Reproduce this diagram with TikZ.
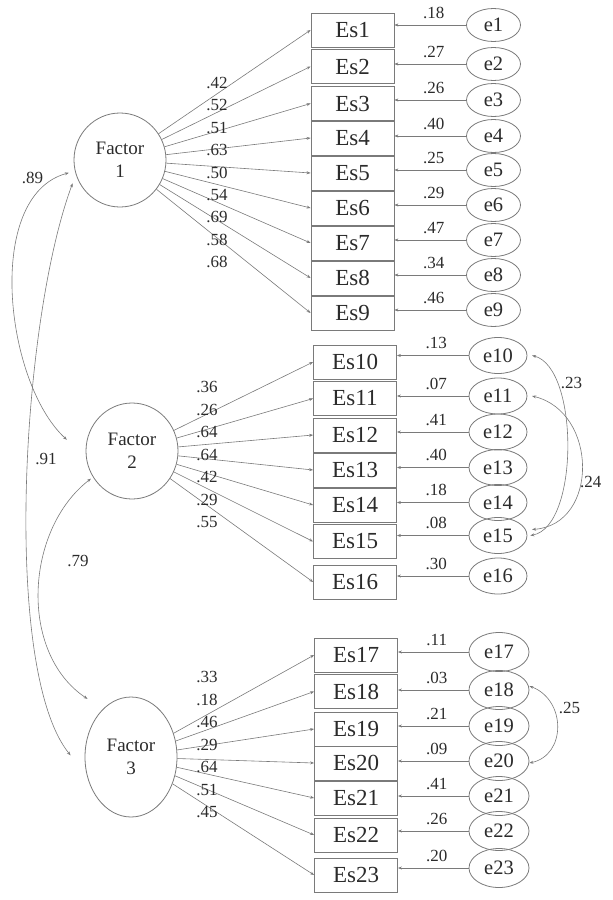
\documentclass[tikz,border=0pt]{standalone}
\usepackage{fontspec}
\setmainfont{Liberation Serif}
\usepackage{tikz}
\usetikzlibrary{shapes.geometric,arrows.meta}
\definecolor{linea}{HTML}{7A7A7A}
\definecolor{texto}{HTML}{2B2B2B}

\begin{document}
\begin{tikzpicture}[
  x=1pt, y=1pt, text=texto,
  fac/.style={ellipse, draw=linea, line width=0.8pt, inner sep=0pt, align=center, font=\fontsize{19}{23}\selectfont},
  ind/.style={rectangle, draw=linea, line width=0.8pt, inner sep=0pt, minimum width=83pt, minimum height=34pt, font=\fontsize{23}{27}\selectfont},
  err/.style={ellipse, draw=linea, line width=0.8pt, inner sep=0pt, minimum width=58pt, minimum height=36pt, font=\fontsize{20.5}{24}\selectfont},
  num/.style={inner sep=1pt, font=\fontsize{17}{20}\selectfont},
  fl/.style={-{Stealth[length=4pt,width=3pt]}, draw=linea, line width=0.6pt},
  cov/.style={{Stealth[length=4pt,width=3pt]}-{Stealth[length=4pt,width=3pt]}, draw=linea, line width=0.6pt}
]
\useasboundingbox (0,0) rectangle (613,-900);

\node[fac, minimum width=92pt, minimum height=94pt] (F1) at (120,-160) {Factor\\1};
\node[fac, minimum width=92pt, minimum height=96pt] (F2) at (132,-451) {Factor\\2};
\node[fac, minimum width=92pt, minimum height=120pt] (F3) at (131,-757) {Factor\\3};

% factor 1
\foreach \i/\yb/\ye/\er in {1/30/25/.18, 2/66.5/64/.27, 3/103.5/100/.26, 4/138/136/.40, 5/173/170/.25, 6/208/205/.29, 7/243/240/.47, 8/278/275/.34, 9/313/310/.46}{
  \node[ind] (Es\i) at (352.5,-\yb) {Es\i};
  \node[err, minimum width=54pt, minimum height=33pt] (e\i) at (493.5,-\ye) {e\i};
  \draw[fl] (F1) -- (Es\i.west);
  \draw[fl] (e\i) -- (Es\i.east |- e\i) node[num, pos=0.45, above=5pt] (v\i) {\er};
}
\foreach \l [count=\k] in {.42,.52,.51,.63,.50,.54,.69,.58,.68}
  \node[num] (cf1-\k) at (217,{-83-22.4*(\k-1)}) {\l};

% factor 2
\foreach \i/\yb/\ye/\er in {10/362/355.5/.13, 11/398.5/396/.07, 12/435/432/.41, 13/470/467.5/.40, 14/505/502.5/.18, 15/541.5/535.5/.08, 16/582/576/.30}{
  \node[ind] (Es\i) at (355,-\yb) {Es\i};
  \node[err] (e\i) at (498,-\ye) {e\i};
  \draw[fl] (F2) -- (Es\i.west);
  \draw[fl] (e\i) -- (Es\i.east |- e\i) node[num, pos=0.45, above=5pt] (v\i) {\er};
}
\foreach \l [count=\k] in {.36,.26,.64,.64,.42,.29,.55}
  \node[num] (cf2-\k) at (207,{-387.3-22.5*(\k-1)}) {\l};

% factor 3
\foreach \i/\yb/\ye/\er in {17/655/652/.11, 18/691.5/690/.03, 19/729/726/.21, 20/763/761/.09, 21/798/796/.41, 22/835/831/.26, 23/875/868/.20}{
  \node[ind] (Es\i) at (356,-\yb) {Es\i};
  \node[err, minimum width=60pt, minimum height=39pt] (e\i) at (499,-\ye) {e\i};
  \draw[fl] (F3) -- (Es\i.west);
  \draw[fl] (e\i) -- (Es\i.east |- e\i) node[num, pos=0.45, above=5pt] (v\i) {\er};
}
\foreach \l [count=\k] in {.33,.18,.46,.29,.64,.51,.45}
  \node[num] (cf3-\k) at (207,{-677.3-22.5*(\k-1)}) {\l};

% covariances
\draw[cov] ([xshift=-6.5pt]F1.196) .. controls +(-85,-23) and +(-62,57) .. ([xshift=-20pt]F2.166);
\draw[cov] ([xshift=-7pt]F1.210) .. controls +(-51,-137) and +(-69,85) .. ([xshift=-14pt]F3.178);
\draw[cov] ([xshift=-3pt]F2.216) .. controls +(-66,-51) and +(-69,46) .. ([shift={(-11pt,15pt)}]F3.127);
\node[num] (r12) at (32.5,-178) {.89};
\node[num] (r13) at (46,-459) {.91};
\node[num] (r23) at (78,-561) {.79};

\draw[cov] ([xshift=4.7pt]e10.east) .. controls +(47,-12) and +(49,9) .. ([xshift=3pt]e15.east);
\draw[cov] ([xshift=4.7pt]e11.east) .. controls +(66,-16) and +(67,5) .. ([xshift=4.7pt,yshift=6pt]e15.east);
\draw[cov] ([yshift=4pt]e18.east) .. controls +(37,-14) and +(37,8) .. ([yshift=-2pt]e20.east);
\node[num] (r1015) at (571.5,-383) {.23};
\node[num] (r1115) at (590.7,-482) {.24};
\node[num] (r1820) at (569.5,-708) {.25};
\end{tikzpicture}
\end{document}
